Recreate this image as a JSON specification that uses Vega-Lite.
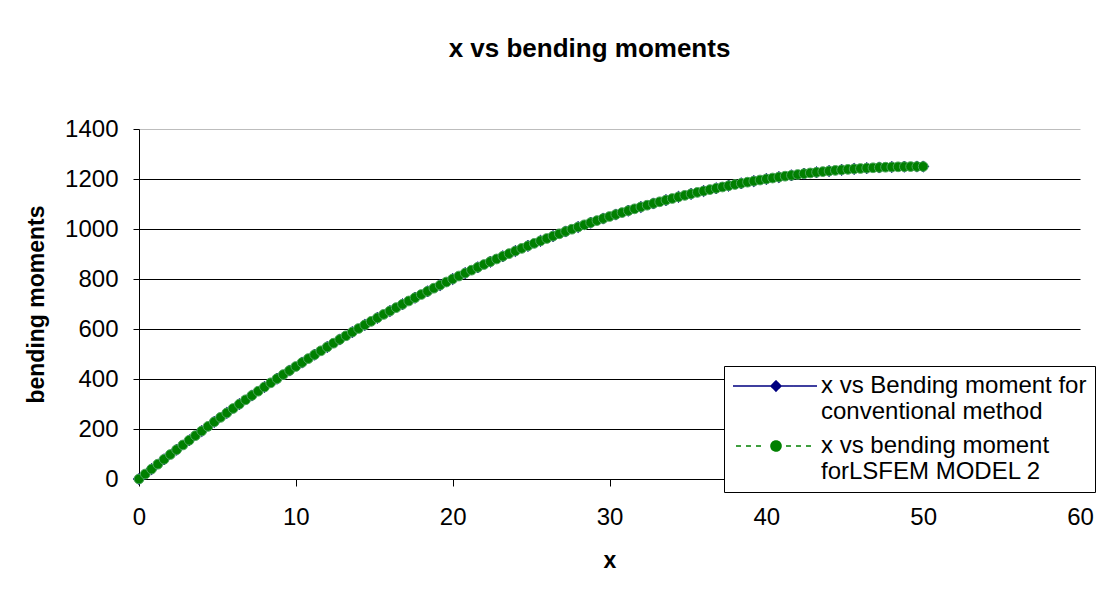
{
  "$schema": "https://vega.github.io/schema/vega-lite/v6.json",
  "autosize": "none",
  "width": 941,
  "height": 350,
  "padding": {"left": 139, "top": 129, "right": 38, "bottom": 111},
  "background": "white",
  "title": {
    "text": "x vs bending moments",
    "font": "Liberation Sans",
    "fontSize": 26,
    "fontWeight": "bold",
    "color": "black",
    "anchor": "middle",
    "frame": "group",
    "dx": -20,
    "offset": 55
  },
  "config": {
    "view": {"stroke": null},
    "axis": {
      "domainColor": "black",
      "tickColor": "black",
      "labelColor": "black",
      "labelFont": "Liberation Sans",
      "labelFontSize": 24,
      "titleFont": "Liberation Sans",
      "titleFontSize": 23,
      "titleFontWeight": "bold",
      "titleColor": "black",
      "gridColor": "black",
      "gridWidth": 1
    }
  },
  "datasets": {
    "moments": [
      {"series":"conventional","x":0,"m":0},{"series":"conventional","x":0.8,"m":39.68},{"series":"conventional","x":1.6,"m":78.72},{"series":"conventional","x":2.4,"m":117.12},{"series":"conventional","x":3.2,"m":154.88},{"series":"conventional","x":4,"m":192},{"series":"conventional","x":4.8,"m":228.48},{"series":"conventional","x":5.6,"m":264.32},{"series":"conventional","x":6.4,"m":299.52},{"series":"conventional","x":7.2,"m":334.08},{"series":"conventional","x":8,"m":368},{"series":"conventional","x":8.8,"m":401.28},{"series":"conventional","x":9.6,"m":433.92},{"series":"conventional","x":10.4,"m":465.92},{"series":"conventional","x":11.2,"m":497.28},{"series":"conventional","x":12,"m":528},{"series":"conventional","x":12.8,"m":558.08},{"series":"conventional","x":13.6,"m":587.52},{"series":"conventional","x":14.4,"m":616.32},{"series":"conventional","x":15.2,"m":644.48},{"series":"conventional","x":16,"m":672},{"series":"conventional","x":16.8,"m":698.88},{"series":"conventional","x":17.6,"m":725.12},{"series":"conventional","x":18.4,"m":750.72},{"series":"conventional","x":19.2,"m":775.68},{"series":"conventional","x":20,"m":800},{"series":"conventional","x":20.8,"m":823.68},{"series":"conventional","x":21.6,"m":846.72},{"series":"conventional","x":22.4,"m":869.12},{"series":"conventional","x":23.2,"m":890.88},{"series":"conventional","x":24,"m":912},{"series":"conventional","x":24.8,"m":932.48},{"series":"conventional","x":25.6,"m":952.32},{"series":"conventional","x":26.4,"m":971.52},{"series":"conventional","x":27.2,"m":990.08},{"series":"conventional","x":28,"m":1008},{"series":"conventional","x":28.8,"m":1025.28},{"series":"conventional","x":29.6,"m":1041.92},{"series":"conventional","x":30.4,"m":1057.92},{"series":"conventional","x":31.2,"m":1073.28},{"series":"conventional","x":32,"m":1088},{"series":"conventional","x":32.8,"m":1102.08},{"series":"conventional","x":33.6,"m":1115.52},{"series":"conventional","x":34.4,"m":1128.32},{"series":"conventional","x":35.2,"m":1140.48},{"series":"conventional","x":36,"m":1152},{"series":"conventional","x":36.8,"m":1162.88},{"series":"conventional","x":37.6,"m":1173.12},{"series":"conventional","x":38.4,"m":1182.72},{"series":"conventional","x":39.2,"m":1191.68},{"series":"conventional","x":40,"m":1200},{"series":"conventional","x":40.8,"m":1207.68},{"series":"conventional","x":41.6,"m":1214.72},{"series":"conventional","x":42.4,"m":1221.12},{"series":"conventional","x":43.2,"m":1226.88},{"series":"conventional","x":44,"m":1232},{"series":"conventional","x":44.8,"m":1236.48},{"series":"conventional","x":45.6,"m":1240.32},{"series":"conventional","x":46.4,"m":1243.52},{"series":"conventional","x":47.2,"m":1246.08},{"series":"conventional","x":48,"m":1248},{"series":"conventional","x":48.8,"m":1249.28},{"series":"conventional","x":49.6,"m":1249.92},{"series":"conventional","x":50,"m":1250},
      {"series":"lsfem","x":0,"m":0},{"series":"lsfem","x":0.4,"m":19.92},{"series":"lsfem","x":0.8,"m":39.68},{"series":"lsfem","x":1.2,"m":59.28},{"series":"lsfem","x":1.6,"m":78.72},{"series":"lsfem","x":2,"m":98},{"series":"lsfem","x":2.4,"m":117.12},{"series":"lsfem","x":2.8,"m":136.08},{"series":"lsfem","x":3.2,"m":154.88},{"series":"lsfem","x":3.6,"m":173.52},{"series":"lsfem","x":4,"m":192},{"series":"lsfem","x":4.4,"m":210.32},{"series":"lsfem","x":4.8,"m":228.48},{"series":"lsfem","x":5.2,"m":246.48},{"series":"lsfem","x":5.6,"m":264.32},{"series":"lsfem","x":6,"m":282},{"series":"lsfem","x":6.4,"m":299.52},{"series":"lsfem","x":6.8,"m":316.88},{"series":"lsfem","x":7.2,"m":334.08},{"series":"lsfem","x":7.6,"m":351.12},{"series":"lsfem","x":8,"m":368},{"series":"lsfem","x":8.4,"m":384.72},{"series":"lsfem","x":8.8,"m":401.28},{"series":"lsfem","x":9.2,"m":417.68},{"series":"lsfem","x":9.6,"m":433.92},{"series":"lsfem","x":10,"m":450},{"series":"lsfem","x":10.4,"m":465.92},{"series":"lsfem","x":10.8,"m":481.68},{"series":"lsfem","x":11.2,"m":497.28},{"series":"lsfem","x":11.6,"m":512.72},{"series":"lsfem","x":12,"m":528},{"series":"lsfem","x":12.4,"m":543.12},{"series":"lsfem","x":12.8,"m":558.08},{"series":"lsfem","x":13.2,"m":572.88},{"series":"lsfem","x":13.6,"m":587.52},{"series":"lsfem","x":14,"m":602},{"series":"lsfem","x":14.4,"m":616.32},{"series":"lsfem","x":14.8,"m":630.48},{"series":"lsfem","x":15.2,"m":644.48},{"series":"lsfem","x":15.6,"m":658.32},{"series":"lsfem","x":16,"m":672},{"series":"lsfem","x":16.4,"m":685.52},{"series":"lsfem","x":16.8,"m":698.88},{"series":"lsfem","x":17.2,"m":712.08},{"series":"lsfem","x":17.6,"m":725.12},{"series":"lsfem","x":18,"m":738},{"series":"lsfem","x":18.4,"m":750.72},{"series":"lsfem","x":18.8,"m":763.28},{"series":"lsfem","x":19.2,"m":775.68},{"series":"lsfem","x":19.6,"m":787.92},{"series":"lsfem","x":20,"m":800},{"series":"lsfem","x":20.4,"m":811.92},{"series":"lsfem","x":20.8,"m":823.68},{"series":"lsfem","x":21.2,"m":835.28},{"series":"lsfem","x":21.6,"m":846.72},{"series":"lsfem","x":22,"m":858},{"series":"lsfem","x":22.4,"m":869.12},{"series":"lsfem","x":22.8,"m":880.08},{"series":"lsfem","x":23.2,"m":890.88},{"series":"lsfem","x":23.6,"m":901.52},{"series":"lsfem","x":24,"m":912},{"series":"lsfem","x":24.4,"m":922.32},{"series":"lsfem","x":24.8,"m":932.48},{"series":"lsfem","x":25.2,"m":942.48},{"series":"lsfem","x":25.6,"m":952.32},{"series":"lsfem","x":26,"m":962},{"series":"lsfem","x":26.4,"m":971.52},{"series":"lsfem","x":26.8,"m":980.88},{"series":"lsfem","x":27.2,"m":990.08},{"series":"lsfem","x":27.6,"m":999.12},{"series":"lsfem","x":28,"m":1008},{"series":"lsfem","x":28.4,"m":1016.72},{"series":"lsfem","x":28.8,"m":1025.28},{"series":"lsfem","x":29.2,"m":1033.68},{"series":"lsfem","x":29.6,"m":1041.92},{"series":"lsfem","x":30,"m":1050},{"series":"lsfem","x":30.4,"m":1057.92},{"series":"lsfem","x":30.8,"m":1065.68},{"series":"lsfem","x":31.2,"m":1073.28},{"series":"lsfem","x":31.6,"m":1080.72},{"series":"lsfem","x":32,"m":1088},{"series":"lsfem","x":32.4,"m":1095.12},{"series":"lsfem","x":32.8,"m":1102.08},{"series":"lsfem","x":33.2,"m":1108.88},{"series":"lsfem","x":33.6,"m":1115.52},{"series":"lsfem","x":34,"m":1122},{"series":"lsfem","x":34.4,"m":1128.32},{"series":"lsfem","x":34.8,"m":1134.48},{"series":"lsfem","x":35.2,"m":1140.48},{"series":"lsfem","x":35.6,"m":1146.32},{"series":"lsfem","x":36,"m":1152},{"series":"lsfem","x":36.4,"m":1157.52},{"series":"lsfem","x":36.8,"m":1162.88},{"series":"lsfem","x":37.2,"m":1168.08},{"series":"lsfem","x":37.6,"m":1173.12},{"series":"lsfem","x":38,"m":1178},{"series":"lsfem","x":38.4,"m":1182.72},{"series":"lsfem","x":38.8,"m":1187.28},{"series":"lsfem","x":39.2,"m":1191.68},{"series":"lsfem","x":39.6,"m":1195.92},{"series":"lsfem","x":40,"m":1200},{"series":"lsfem","x":40.4,"m":1203.92},{"series":"lsfem","x":40.8,"m":1207.68},{"series":"lsfem","x":41.2,"m":1211.28},{"series":"lsfem","x":41.6,"m":1214.72},{"series":"lsfem","x":42,"m":1218},{"series":"lsfem","x":42.4,"m":1221.12},{"series":"lsfem","x":42.8,"m":1224.08},{"series":"lsfem","x":43.2,"m":1226.88},{"series":"lsfem","x":43.6,"m":1229.52},{"series":"lsfem","x":44,"m":1232},{"series":"lsfem","x":44.4,"m":1234.32},{"series":"lsfem","x":44.8,"m":1236.48},{"series":"lsfem","x":45.2,"m":1238.48},{"series":"lsfem","x":45.6,"m":1240.32},{"series":"lsfem","x":46,"m":1242},{"series":"lsfem","x":46.4,"m":1243.52},{"series":"lsfem","x":46.8,"m":1244.88},{"series":"lsfem","x":47.2,"m":1246.08},{"series":"lsfem","x":47.6,"m":1247.12},{"series":"lsfem","x":48,"m":1248},{"series":"lsfem","x":48.4,"m":1248.72},{"series":"lsfem","x":48.8,"m":1249.28},{"series":"lsfem","x":49.2,"m":1249.68},{"series":"lsfem","x":49.6,"m":1249.92},{"series":"lsfem","x":50,"m":1250}
    ]
  },
  "data": {"name": "moments"},
  "encoding": {
    "x": {
      "field": "x",
      "type": "quantitative",
      "scale": {"domain": [0, 60], "nice": false},
      "axis": {
        "title": "x",
        "values": [0, 10, 20, 30, 40, 50, 60],
        "format": "d",
        "grid": false,
        "tickSize": 7,
        "labelPadding": 19,
        "titlePadding": 20,
        "labelFlush": false
      }
    },
    "y": {
      "field": "m",
      "type": "quantitative",
      "scale": {"domain": [0, 1400], "nice": false},
      "axis": {
        "title": "bending moments",
        "values": [0, 200, 400, 600, 800, 1000, 1200, 1400],
        "format": "d",
        "grid": true,
        "gridColor": {"condition": {"test": "datum.value == 1400", "value": "#bdbdbd"}, "value": "black"},
        "tickSize": 6,
        "labelPadding": 15,
        "titlePadding": 16,
        "labelFlush": false
      }
    },
    "color": {
      "field": "series",
      "type": "nominal",
      "scale": {"domain": ["conventional", "lsfem"], "range": ["#000080", "#008000"]},
      "legend": {
        "orient": "none",
        "legendX": 585,
        "legendY": 237,
        "title": null,
        "strokeColor": "black",
        "fillColor": "white",
        "padding": 8,
        "labelFont": "Liberation Sans",
        "labelFontSize": 24,
        "labelColor": "black",
        "labelLimit": 0,
        "labelOffset": 65,
        "symbolSize": 100,
        "rowPadding": 10,
        "labelExpr": "datum.value == 'conventional' ? ['x vs Bending moment for', 'conventional method'] : ['x vs bending moment', 'forLSFEM MODEL 2']",
        "encode": {
          "symbols": {
            "update": {
              "shape": {"signal": "datum.value == 'conventional' ? 'M-2.2,0H14.6M6.4,-1L7.4,0L6.4,1L5.4,0Z' : 'M-1.6,0H-0.6M0.4,0H1.4M2.4,0H3.4M8.4,0H9.4M10.4,0H11.4M12.4,0H13.4M7.4,0A1,1 0 1,1 5.4,0A1,1 0 1,1 7.4,0Z'"},
              "strokeWidth": {"value": 1.6},
              "strokeDash": {"value": [1, 0]},
              "opacity": {"value": 1},
              "fillOpacity": {"value": 1},
              "strokeOpacity": {"value": 1},
              "size": {"value": 100}
            }
          }
        }
      }
    }
  },
  "layer": [
    {
      "mark": {"type": "line", "strokeWidth": 1.6},
      "encoding": {
        "strokeDash": {
          "field": "series",
          "type": "nominal",
          "scale": {"domain": ["lsfem", "conventional"], "range": [[4, 4], [1, 0]]},
          "legend": null
        }
      }
    },
    {
      "mark": {"type": "point", "filled": true, "opacity": 1, "strokeWidth": 1},
      "encoding": {
        "shape": {
          "field": "series",
          "type": "nominal",
          "scale": {"domain": ["lsfem", "conventional"], "range": ["circle", "diamond"]},
          "legend": null
        },
        "size": {"condition": {"test": "datum.series == 'conventional'", "value": 125}, "value": 95},
        "stroke": {"condition": {"test": "datum.series == 'conventional'", "value": "#000080"}, "value": "#4aa55a"}
      }
    }
  ]
}
